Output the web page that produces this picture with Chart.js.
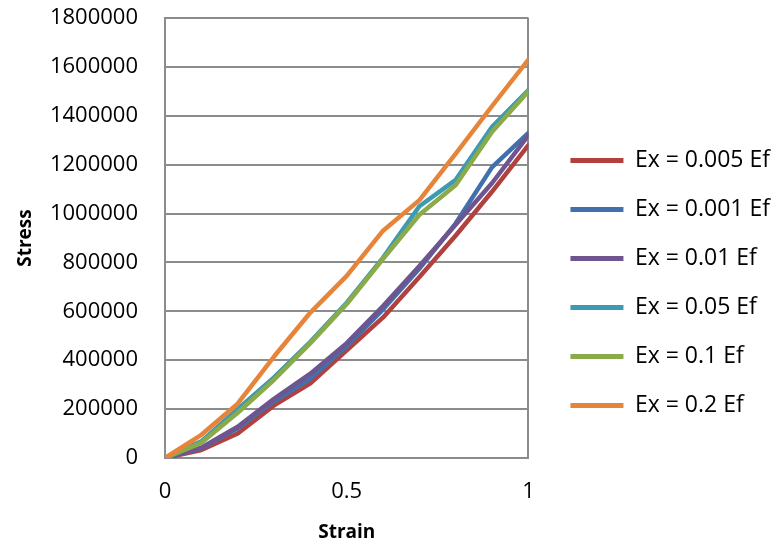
<!DOCTYPE html>
<html>
<head>
<meta charset="utf-8">
<script src="https://cdn.jsdelivr.net/npm/chart.js@4.4.1/dist/chart.umd.min.js"></script>
<style>
  html, body { margin: 0; padding: 0; background: #fff; }
  #wrap { width: 772px; height: 548px; }
</style>
</head>
<body>
<div id="wrap"><canvas id="grafico"></canvas></div>
<script>
// strain points shared by every curve
const strain = [0, 0.1, 0.2, 0.3, 0.4, 0.5, 0.6, 0.7, 0.8, 0.9, 1];

// stress for each Ex value
const ex0005 = [0, 33000, 100000, 215000, 305000, 440000, 575000, 740000, 910000, 1090000, 1280000];
const ex0001 = [0, 40000, 122000, 232000, 325000, 458000, 608000, 775000, 960000, 1190000, 1330000];
const ex001 = [0, 42000, 128000, 242000, 345000, 470000, 622000, 785000, 955000, 1125000, 1320000];
const ex005 = [0, 68000, 200000, 330000, 475000, 635000, 820000, 1030000, 1138000, 1355000, 1505000];
const ex01 = [0, 62000, 185000, 320000, 470000, 630000, 815000, 995000, 1117000, 1335000, 1500000];
const ex02 = [0, 95000, 222000, 415000, 595000, 745000, 930000, 1055000, 1245000, 1440000, 1630000];

const yTicks = [0, 200000, 400000, 600000, 800000, 1000000, 1200000, 1400000, 1600000, 1800000];
const xTicks = [0, 0.5, 1];

const series = [
    { nome: 'Ex = 0.005 Ef', valores: ex0005, cor: '#b0413e' },
    { nome: 'Ex = 0.001 Ef', valores: ex0001, cor: '#4170ad' },
    { nome: 'Ex = 0.01 Ef', valores: ex001, cor: '#6f5590' },
    { nome: 'Ex = 0.05 Ef', valores: ex005, cor: '#3c9ab3' },
    { nome: 'Ex = 0.1 Ef', valores: ex01, cor: '#8bab4a' },
    { nome: 'Ex = 0.2 Ef', valores: ex02, cor: '#e6853a' }
];

const fonte = "'Open Sans', sans-serif";
const cinza = '#8c8c8c';

const datasets = series.map((s, i) => ({
    label: s.nome,
    data: strain.map((x, j) => ({ x: x, y: s.valores[j] })),
    borderColor: s.cor,
    backgroundColor: s.cor,
    borderWidth: 4.5,
    borderJoinStyle: 'round',
    borderCapStyle: 'round',
    pointRadius: 0,
    fill: false,
    tension: 0,
    order: series.length - i // later series drawn on top
}));

const ctx = document.getElementById('grafico').getContext('2d');

new Chart(ctx, {
    type: 'line',
    data: { datasets: datasets },
    options: {
        responsive: true,
        maintainAspectRatio: false,
        animation: false,
        layout: { padding: { top: 18, right: -8, bottom: 0, left: 0 } },
        scales: {
            x: {
                type: 'linear',
                min: 0,
                max: 1,
                afterBuildTicks: (axis) => { axis.ticks = xTicks.map(v => ({ value: v })); },
                afterFit: (axis) => { axis.height = 90; },
                ticks: {
                    color: '#000',
                    padding: 21,
                    font: { family: fonte, size: 22 },
                    callback: (v) => String(v)
                },
                grid: {
                    drawTicks: false,
                    lineWidth: 2,
                    color: (c) => (c.tick && c.tick.value === 0.5) ? 'rgba(0,0,0,0)' : cinza
                },
                border: { display: true, color: cinza, width: 2 },
                title: {
                    display: true,
                    text: 'Strain',
                    color: '#000',
                    font: { family: fonte, size: 19, weight: 'bold' },
                    padding: { top: 7 }
                }
            },
            y: {
                min: 0,
                max: 1800000,
                afterBuildTicks: (axis) => { axis.ticks = yTicks.map(v => ({ value: v })); },
                afterFit: (axis) => {
                    axis.width = 165;
                    // tick padding would otherwise push the plot down
                    axis.paddingTop = 13;
                    axis.paddingBottom = 13;
                },
                ticks: {
                    color: '#000',
                    padding: 27,
                    font: { family: fonte, size: 22 },
                    callback: (v) => String(v)
                },
                grid: { drawTicks: false, lineWidth: 2, color: cinza },
                border: { display: true, color: cinza, width: 2 },
                title: {
                    display: true,
                    text: 'Stress',
                    color: '#000',
                    font: { family: fonte, size: 19, weight: 'bold' },
                    padding: { top: 14, bottom: 0 }
                }
            },
            // empty scale on the right, only keeps the legend away from the plot
            folga: {
                type: 'linear',
                position: 'right',
                min: 0,
                max: 1,
                afterFit: (axis) => { axis.width = 16; },
                ticks: { display: false },
                grid: { display: false },
                border: { display: false }
            }
        },
        plugins: {
            legend: {
                position: 'right',
                align: 'center',
                maxWidth: 320,
                labels: {
                    color: '#000',
                    font: { family: fonte, size: 23 },
                    boxWidth: 53,
                    boxHeight: 5,
                    padding: 26,
                    generateLabels: (chart) => chart.data.datasets.map((d, i) => ({
                        text: d.label,
                        fillStyle: d.borderColor,
                        strokeStyle: d.borderColor,
                        lineWidth: 0,
                        fontColor: '#000',
                        hidden: false,
                        datasetIndex: i
                    }))
                }
            },
            tooltip: { enabled: false }
        }
    }
});
</script>
</body>
</html>
